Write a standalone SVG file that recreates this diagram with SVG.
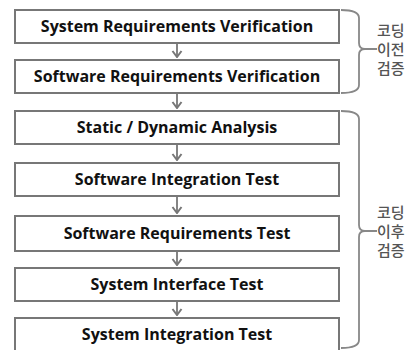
<svg xmlns="http://www.w3.org/2000/svg" width="416" height="350" viewBox="0 0 416 350">
<style>
.box rect{fill:#fff;stroke:#777;stroke-width:2}
.box text{font-family:"Open Sans","Noto Sans",sans-serif;font-weight:bold;font-size:16px;fill:#111;text-anchor:middle}
.conn line{stroke:#777;stroke-width:1.8}
.conn path{fill:none;stroke:#888;stroke-width:1.8}
.lbl{font-family:"Noto Sans CJK KR",sans-serif;font-size:15px;font-weight:500;fill:#555}
</style>
<defs>
<marker id="v" viewBox="0 0 8 12" refX="7" refY="6" markerWidth="8" markerHeight="12" markerUnits="userSpaceOnUse" orient="auto">
<path d="M1,1.5 L7,6 L1,10.5" fill="none" stroke="#777" stroke-width="2"/>
</marker>
</defs>
<rect width="416" height="350" fill="#fff"/>
<g class="conn">
<line x1="177" y1="43" x2="177" y2="57" marker-end="url(#v)"/>
<line x1="177" y1="93" x2="177" y2="108" marker-end="url(#v)"/>
<line x1="177" y1="144" x2="177" y2="160" marker-end="url(#v)"/>
<line x1="177" y1="196" x2="177" y2="213" marker-end="url(#v)"/>
<line x1="177" y1="251" x2="177" y2="265" marker-end="url(#v)"/>
<line x1="177" y1="301" x2="177" y2="315" marker-end="url(#v)"/>
<path d="M341,10 Q359,10 359,18 L359,43 Q359,49 365,49 L377,49 M365,49 Q359,49 359,55 L359,85 Q359,93 341,93"/>
<path d="M341,111 Q359,111 359,119 L359,225 Q359,231 365,231 L377,231 M365,231 Q359,231 359,237 L359,340 Q359,348 341,348"/>
</g>
<g id="n1" class="box"><rect x="15" y="10" width="324" height="33"/><text x="177" y="32">System Requirements Verification</text></g>
<g id="n2" class="box"><rect x="15" y="60" width="324" height="33"/><text x="177" y="82">Software Requirements Verification</text></g>
<g id="n3" class="box"><rect x="15" y="111" width="324" height="33"/><text x="177" y="133">Static / Dynamic Analysis</text></g>
<g id="n4" class="box"><rect x="15" y="163" width="324" height="33"/><text x="177" y="185">Software Integration Test</text></g>
<g id="n5" class="box"><rect x="15" y="216" width="324" height="35"/><text x="177" y="239">Software Requirements Test</text></g>
<g id="n6" class="box"><rect x="15" y="268" width="324" height="33"/><text x="177" y="290">System Interface Test</text></g>
<g id="n7" class="box"><rect x="15" y="318" width="324" height="33"/><text x="177" y="340">System Integration Test</text></g>
<g id="g1"><text class="lbl" x="377" y="36"><tspan x="377">코딩</tspan><tspan x="377" dy="19">이전</tspan><tspan x="377" dy="19">검증</tspan></text></g>
<g id="g2"><text class="lbl" x="377" y="218"><tspan x="377">코딩</tspan><tspan x="377" dy="19">이후</tspan><tspan x="377" dy="19">검증</tspan></text></g>
</svg>
